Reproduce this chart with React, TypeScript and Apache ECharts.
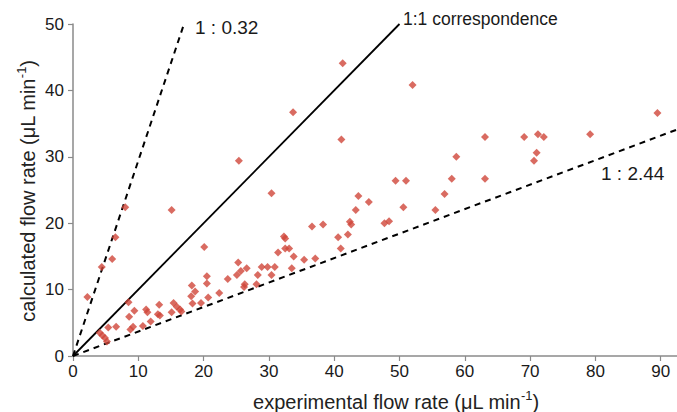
import React, { useEffect, useRef } from "react";
import * as echarts from "echarts";

const xTicks = [0, 10, 20, 30, 40, 50, 60, 70, 80, 90];
const yTicks = [0, 10, 20, 30, 40, 50];

const pointsX = [
  2.2, 4.4, 6.0, 6.5, 8.0, 15.1,
  41.3, 52.0, 33.7, 41.1, 25.4, 30.4, 20.1,
  4.1, 4.5, 4.9, 5.2, 5.4, 6.6, 8.5, 8.6, 9.4, 8.8, 9.2, 10.7, 11.9, 11.2, 11.4, 13.2, 13.0, 13.3,
  15.4, 15.9, 16.4, 16.6, 15.1, 18.2, 18.7, 18.1, 18.3, 19.6, 20.5, 20.5, 20.7, 22.4, 23.7, 25.1, 25.7, 25.3, 26.6, 26.3, 26.2, 28.1, 28.3, 28.9,
  29.8, 30.4, 30.9, 31.4, 32.3, 32.5, 32.5, 33.1, 33.8, 33.5, 35.4, 37.1, 36.6, 38.3, 40.6, 41.0, 42.1, 42.4, 42.6, 43.3, 43.7, 45.3, 47.7, 48.4,
  49.4, 51.0, 50.6, 55.5, 56.9, 58.0, 58.7, 63.1, 63.1, 69.1, 71.2, 72.1, 71.0, 70.6, 79.2, 89.5,
];
const pointsY = [
  8.9, 13.4, 14.6, 17.9, 22.4, 22.0,
  44.1, 40.8, 36.7, 32.6, 29.4, 24.5, 16.4,
  3.5, 3.1, 2.7, 2.2, 4.3, 4.4, 8.1, 5.9, 6.8, 4.0, 4.4, 4.5, 5.2, 7.0, 6.6, 7.7, 6.3, 6.1,
  8.0, 7.4, 7.0, 6.7, 6.6, 10.6, 9.7, 9.0, 7.9, 8.0, 12.0, 10.9, 8.8, 9.5, 11.6, 12.2, 12.8, 14.1, 13.2, 10.8, 10.4, 10.8, 12.2, 13.4,
  13.4, 12.2, 13.4, 15.6, 18.0, 17.7, 16.2, 16.2, 15.0, 13.2, 14.5, 14.7, 19.5, 19.8, 17.9, 16.2, 18.3, 20.2, 19.8, 22.0, 24.1, 23.2, 20.0, 20.3,
  26.4, 26.4, 22.4, 22.0, 24.4, 26.7, 30.0, 33.0, 26.7, 33.0, 33.4, 33.0, 30.6, 29.4, 33.4, 36.6,
];

const lineOneToOne = [[0, 0], [50, 50]];
const lineSteep = [[0, 0], [17, 50]];
const lineShallow = [[0, 0], [92.5, 34.1]];

const labelSteep = "1 : 0.32";
const labelOne = "1:1 correspondence";
const labelShallow = "1 : 2.44";

export default function App() {
  const ref = useRef<HTMLDivElement>(null);
  useEffect(() => {
    if (!ref.current) return;
    const chart = echarts.init(ref.current, null, { renderer: "svg" });
    const font = "Arial, 'Liberation Sans', Helvetica, sans-serif";
    const scatter = pointsX.map((x, i) => [x, pointsY[i]]);
    const rich = {
      a: { fontSize: 20, lineHeight: 23, fill: "#222", fontFamily: font, verticalAlign: "bottom" },
      s: { fontSize: 13, lineHeight: 23, fill: "#222", fontFamily: font, verticalAlign: "top" },
    };
    chart.setOption({
      animation: false,
      backgroundColor: "#ffffff",
      textStyle: { fontFamily: font },
      grid: { left: 73, top: 24, width: 604, height: 332, containLabel: false },
      xAxis: {
        type: "value",
        min: 0,
        max: 92.5,
        interval: 10,
        splitLine: { show: false },
        axisLine: { show: true, onZero: false, lineStyle: { color: "#8a8a8a", width: 1.5 } },
        axisTick: { show: true, length: 5, customValues: xTicks, lineStyle: { color: "#8a8a8a", width: 1.2 } },
        axisLabel: { customValues: xTicks, color: "#1a1a1a", fontSize: 17, margin: 7, fontFamily: font },
      },
      yAxis: {
        type: "value",
        min: 0,
        max: 50,
        interval: 10,
        splitLine: { show: false },
        axisLine: { show: true, onZero: false, lineStyle: { color: "#8a8a8a", width: 1.5 } },
        axisTick: { show: true, length: 5, customValues: yTicks, lineStyle: { color: "#8a8a8a", width: 1.2 } },
        axisLabel: { customValues: yTicks, color: "#1a1a1a", fontSize: 17, margin: 9, fontFamily: font },
      },
      series: [
        {
          type: "line",
          data: lineOneToOne,
          symbol: "none",
          silent: true,
          lineStyle: { color: "#000", width: 1.8 },
        },
        {
          type: "line",
          data: lineSteep,
          symbol: "none",
          silent: true,
          lineStyle: { color: "#000", width: 2, type: [6, 5] },
        },
        {
          type: "line",
          data: lineShallow,
          symbol: "none",
          silent: true,
          lineStyle: { color: "#000", width: 2, type: [6, 5] },
        },
        {
          type: "scatter",
          data: scatter,
          symbol: "diamond",
          symbolSize: 8,
          itemStyle: { color: "#d0463a" },
          z: 5,
        },
      ],
      graphic: [
        {
          type: "text",
          left: 195,
          top: 18,
          style: { text: labelSteep, fontSize: 19, fill: "#1a1a1a", fontFamily: font },
        },
        {
          type: "text",
          left: 403,
          top: 10,
          style: { text: labelOne, fontSize: 17.5, fill: "#1a1a1a", fontFamily: font },
        },
        {
          type: "text",
          left: 601,
          top: 164,
          style: { text: labelShallow, fontSize: 19, fill: "#1a1a1a", fontFamily: font },
        },
        {
          type: "text",
          x: 396,
          y: 400,
          style: {
            text: "{a|experimental flow rate (μL min}{s|-1}{a|)}",
            align: "center",
            verticalAlign: "middle",
            fill: "#1a1a1a",
            fontFamily: font,
            rich,
          },
        },
        {
          type: "text",
          x: 26,
          y: 191,
          rotation: Math.PI / 2,
          style: {
            text: "{a|calculated flow rate (μL min}{s|-1}{a|)}",
            align: "center",
            verticalAlign: "middle",
            fill: "#1a1a1a",
            fontFamily: font,
            rich,
          },
        },
      ],
    });
    return () => chart.dispose();
  }, []);
  return (
    <div
      ref={ref}
      style={{ position: "absolute", left: 0, top: 0, width: 677, height: 412 }}
    />
  );
}
